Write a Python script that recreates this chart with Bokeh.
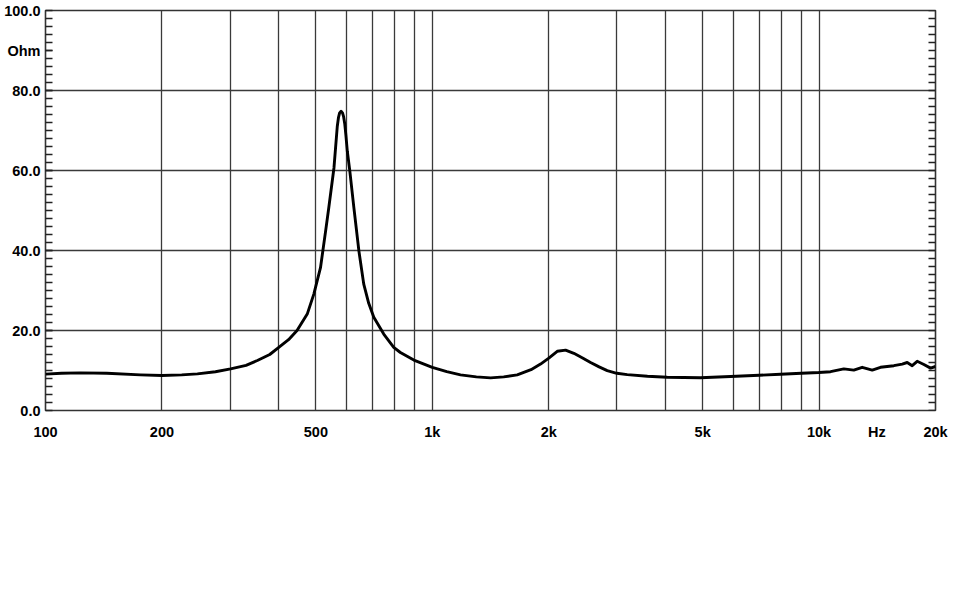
import math
from bokeh.plotting import figure
from bokeh.models import FixedTicker, Grid, Range1d
from bokeh.embed import file_html
from bokeh.resources import INLINE

freq = [100, 110, 123, 144, 176, 200, 225, 247, 275, 301, 330, 353, 380, 401, 425,
        447, 475, 494, 514, 530, 540, 557, 568, 572, 576, 581, 586, 590, 594, 598, 603, 612, 627,
        646, 665, 685, 706, 749, 795, 827, 896, 1000, 1090, 1183, 1300, 1415, 1530,
        1658, 1800, 1905, 2001, 2104, 2211, 2323, 2440, 2566, 2700, 2833, 3000, 3192,
        3600, 4050, 4935, 5902, 7000, 7951, 9000, 9984, 10706, 11588, 12296, 12928,
        13723, 14414, 15607, 16404, 16899, 17408, 17935, 18664, 19420, 20000]
ohm = [9.1, 9.3, 9.4, 9.3, 8.9, 8.75, 8.9, 9.15, 9.7, 10.4, 11.3, 12.5, 14.0, 15.8, 17.7,
       20.0, 24.1, 29.1, 35.7, 44.9, 50.7, 60.7, 71.0, 73.2, 74.4, 74.8, 74.4, 73.4, 71.6, 68.8, 64.8, 59.9, 50.7,
       39.9, 31.6, 26.8, 23.3, 19.1, 15.8, 14.5, 12.6, 10.8, 9.7, 8.9, 8.4, 8.15, 8.4,
       8.9, 10.2, 11.6, 13.1, 14.8, 15.1, 14.3, 13.2, 12.0, 10.9, 9.98, 9.3, 8.98,
       8.55, 8.3, 8.2, 8.5, 8.8, 9.05, 9.3, 9.5, 9.7, 10.4, 10.1, 10.8,
       10.1, 10.8, 11.2, 11.6, 12.0, 11.2, 12.3, 11.5, 10.6, 11.0]

x_ticks = [100, 200, 500, 1000, 2000, 5000, 10000, 14100, 20000]
x_labels = ["100", "200", "500", "1k", "2k", "5k", "10k", "Hz", "20k"]
x_grid = [200, 300, 400, 500, 600, 700, 800, 900,
          1000, 2000, 3000, 4000, 5000, 6000, 7000, 8000, 9000, 10000]
y_ticks = [0, 20, 40, 60, 80, 90, 100]
y_labels = ["0.0", "20.0", "40.0", "60.0", "80.0", "Ohm", "100.0"]
y_grid = [20, 40, 60, 80]
y_minor = list(range(2, 100, 2))

W, H = 955, 595
p = figure(width=W, height=H, x_axis_type="log",
           x_range=Range1d(100, 20000), y_range=Range1d(0, 100),
           output_backend="svg", toolbar_location=None,
           min_border_left=45, min_border_right=W - 935,
           min_border_top=10, min_border_bottom=H - 410)
p.xgrid.visible = False
p.ygrid.visible = False
p.outline_line_color = "#333333"
p.outline_line_width = 1.6
p.background_fill_color = "white"
p.border_fill_color = "white"

grid_color = "#3a3a3a"
p.add_layout(Grid(dimension=0, ticker=FixedTicker(ticks=x_grid),
                  grid_line_color=grid_color, grid_line_width=1.3))
p.add_layout(Grid(dimension=1, ticker=FixedTicker(ticks=y_grid),
                  grid_line_color=grid_color, grid_line_width=1.3))

label_font = "Liberation Sans"
fs = "14.5px"

xa = p.xaxis[0]
xa.ticker = FixedTicker(ticks=x_ticks)
xa.major_label_overrides = {t: l for t, l in zip(x_ticks, x_labels)}
xa.major_tick_in = 0
xa.major_tick_out = 0
xa.minor_tick_in = 0
xa.minor_tick_out = 0
xa.axis_line_color = None
xa.major_label_standoff = 13
xa.major_label_text_font = label_font
xa.major_label_text_font_style = "bold"
xa.major_label_text_font_size = fs
xa.major_label_text_color = "black"

ya = p.yaxis[0]
ya.ticker = FixedTicker(ticks=y_ticks, minor_ticks=y_minor)
ya.major_label_overrides = {t: l for t, l in zip(y_ticks, y_labels)}
ya.major_tick_in = 7
ya.major_tick_out = 0
ya.minor_tick_in = 7
ya.minor_tick_out = 0
ya.major_tick_line_color = "#222222"
ya.minor_tick_line_color = "#222222"
ya.major_tick_line_width = 1.5
ya.minor_tick_line_width = 1.5
ya.axis_line_color = None
ya.major_label_standoff = 5
ya.major_label_text_font = label_font
ya.major_label_text_font_style = "bold"
ya.major_label_text_font_size = fs
ya.major_label_text_color = "black"

# inward ticks on the right edge
right_ticks = sorted(set(y_minor + y_ticks))
p.ray(x=[x_ticks[-1]] * len(right_ticks), y=right_ticks, length=7,
      length_units="screen", angle=math.pi, line_color="#222222", line_width=1.5)

p.line(freq, ohm, line_color="black", line_width=2.9, line_join="round")

open("out.html", "w").write(file_html(p, INLINE))
